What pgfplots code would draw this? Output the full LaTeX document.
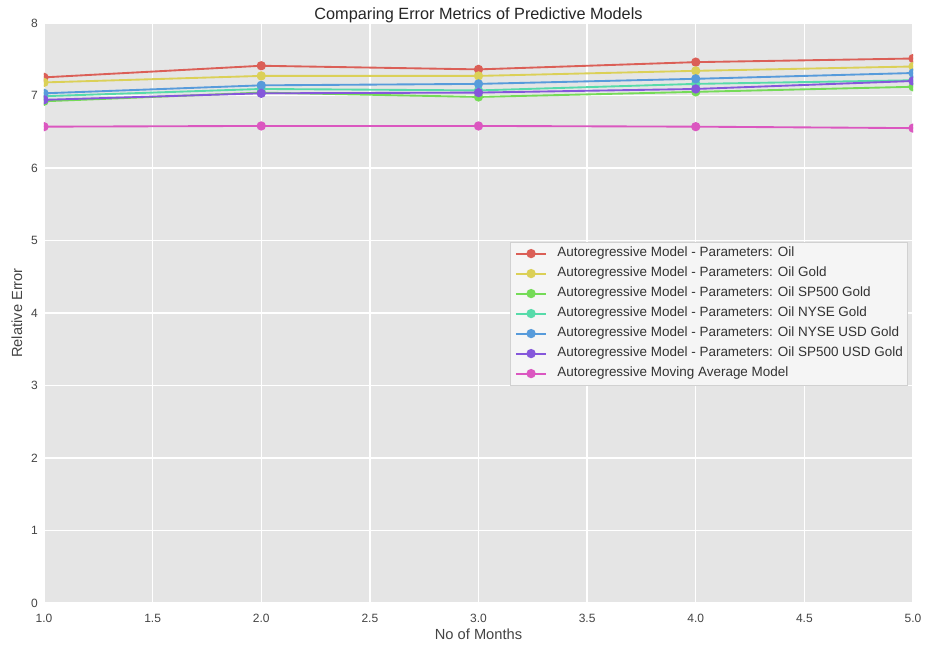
\documentclass[border=0pt]{standalone}
\usepackage{pgfplots}
\pgfplotsset{compat=1.18}
\usepackage{fontspec}
\setmainfont{Liberation Sans}
\definecolor{cRed}{HTML}{DB5F57}
\definecolor{cYel}{HTML}{DBD057}
\definecolor{cGrn}{HTML}{75DB57}
\definecolor{cTeal}{HTML}{57DBAA}
\definecolor{cBlue}{HTML}{579BDB}
\definecolor{cPur}{HTML}{8557DB}
\definecolor{cPink}{HTML}{DB57C0}
\definecolor{bg}{HTML}{E5E5E5}
\definecolor{txt}{HTML}{444444}
\begin{document}
\begin{tikzpicture}
\begin{axis}[
  scale only axis,
  width=651.75pt, height=435pt,
  xmin=1, xmax=5, ymin=0, ymax=8,
  xtick={1,1.5,2,2.5,3,3.5,4,4.5,5},
  ytick={0,1,2,3,4,5,6,7,8},
  /pgf/number format/assume math mode=true,
  major tick length=0pt,
  axis line style={draw=none},
  axis background/.style={fill=bg},
  grid=major,
  major grid style={white, line width=1pt},
  tick label style={font=\fontsize{9}{10.8}\selectfont, text=txt},
  xticklabel style={anchor=base, yshift=-14.5pt, /pgf/number format/.cd, fixed, fixed zerofill, precision=1, assume math mode=true},
  yticklabel style={anchor=east, inner sep=0pt, xshift=-4.5pt},
  every axis title shift=0pt,
  title={Comparing Error Metrics of Predictive Models},
  title style={at={(axis description cs:0.5,1.0052)}, anchor=base, font=\fontsize{12.2}{14}\selectfont, text=black!85},
  xlabel={No of Months},
  xlabel style={at={(axis description cs:0.5,-0.0621)}, anchor=base, font=\fontsize{11}{13}\selectfont, text=txt},
  ylabel={Relative Error},
  ylabel style={at={(axis description cs:-0.0253,0.5)}, anchor=base, font=\fontsize{11}{13}\selectfont, text=txt},
  clip marker paths=true,
  every axis plot/.append style={line width=1.4pt, mark=*, mark size=2.75pt},
  legend image code/.code={\draw[mark repeat=2,mark phase=2] plot coordinates {(0pt,0pt)(11pt,0pt)(22pt,0pt)};},
  legend cell align=left,
  legend style={at={(0.9942,0.499)}, anchor=east, fill=white!96!black, draw=white!82!black, line width=0.6pt,
    font=\fontsize{10.1}{12}\selectfont, text=black!80,
    inner sep=3.5pt, row sep=5pt, column sep=8pt,
    nodes={inner sep=0pt, text height=7.5pt, text depth=2.5pt}},
]
\addplot[cRed, mark options={fill=cRed}] coordinates {(1,7.25) (2,7.41) (3,7.36) (4,7.46) (5,7.51)};
\addlegendentry{Autoregressive Model - Parameters: Oil}
\addplot[cYel, mark options={fill=cYel}] coordinates {(1,7.18) (2,7.27) (3,7.27) (4,7.34) (5,7.40)};
\addlegendentry{Autoregressive Model - Parameters: Oil Gold}
\addplot[cGrn, mark options={fill=cGrn}] coordinates {(1,6.92) (2,7.04) (3,6.98) (4,7.05) (5,7.12)};
\addlegendentry{Autoregressive Model - Parameters: Oil SP500 Gold}
\addplot[cTeal, mark options={fill=cTeal}] coordinates {(1,6.99) (2,7.09) (3,7.07) (4,7.16) (5,7.21)};
\addlegendentry{Autoregressive Model - Parameters: Oil NYSE Gold}
\addplot[cBlue, mark options={fill=cBlue}] coordinates {(1,7.03) (2,7.14) (3,7.16) (4,7.23) (5,7.31)};
\addlegendentry{Autoregressive Model - Parameters: Oil NYSE USD Gold}
\addplot[cPur, mark options={fill=cPur}] coordinates {(1,6.94) (2,7.03) (3,7.04) (4,7.09) (5,7.20)};
\addlegendentry{Autoregressive Model - Parameters: Oil SP500 USD Gold}
\addplot[cPink, mark options={fill=cPink}] coordinates {(1,6.57) (2,6.58) (3,6.58) (4,6.57) (5,6.55)};
\addlegendentry{Autoregressive Moving Average Model}
\coordinate (sw) at (rel axis cs:0,0);
\coordinate (ne) at (rel axis cs:1,1);
\end{axis}
\pgfresetboundingbox
\path[use as bounding box] ([xshift=-33pt,yshift=-33pt]sw) rectangle ([xshift=9pt,yshift=17.25pt]ne);
\end{tikzpicture}
\end{document}
